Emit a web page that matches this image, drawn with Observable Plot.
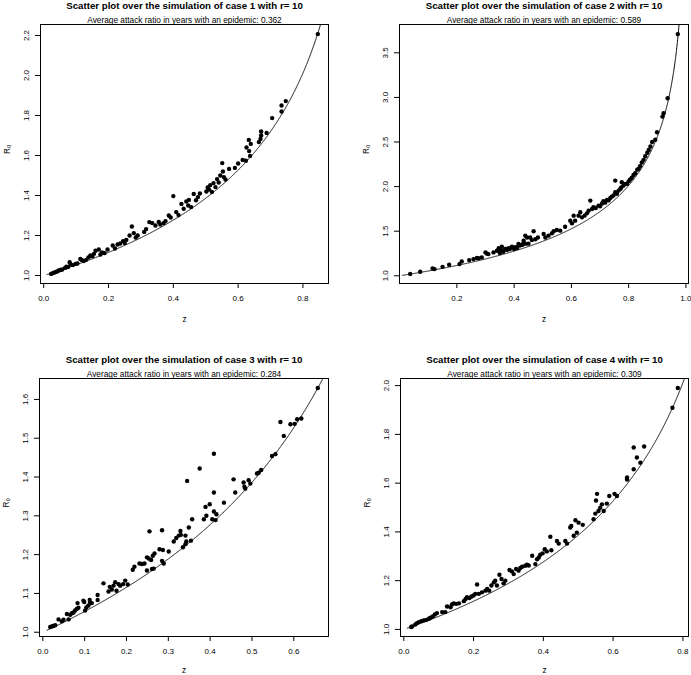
<!DOCTYPE html>
<html>
<head>
<meta charset="utf-8">
<script src="https://cdn.jsdelivr.net/npm/d3@7"></script>
<script src="https://cdn.jsdelivr.net/npm/@observablehq/plot@0.6"></script>
<style>
  body { margin: 0; background: #fff; }
  #page { position: relative; width: 691px; height: 675px; background: #fff; overflow: hidden; }
  #page svg { position: absolute; }
</style>
</head>
<body>
<div id="page"></div>
<script>
// Simulation settings and per-case summaries
const caseNumbers = [1, 2, 3, 4];
const rValue = 10;
const attackRatios = ["0.362", "0.589", "0.284", "0.309"];

// Case 1: attack ratio z and reproduction number R0 per simulated epidemic year
const case1Z = [0.023,0.028,0.033,0.038,0.043,0.048,0.052,0.057,0.066,0.07,0.075,0.08,0.083,0.09,0.098,0.104,0.113,0.117,0.123,0.13,0.138,0.144,0.15,0.155,0.16,0.17,0.175,0.18,0.188,0.197,0.213,0.22,0.228,0.236,0.245,0.25,0.255,0.272,0.265,0.278,0.284,0.29,0.31,0.316,0.326,0.335,0.345,0.355,0.36,0.37,0.376,0.386,0.392,0.4,0.409,0.416,0.425,0.432,0.44,0.446,0.448,0.455,0.463,0.47,0.476,0.482,0.502,0.506,0.51,0.514,0.519,0.524,0.53,0.535,0.54,0.545,0.551,0.553,0.556,0.561,0.572,0.59,0.6,0.614,0.624,0.626,0.633,0.634,0.637,0.639,0.664,0.669,0.671,0.671,0.688,0.705,0.734,0.734,0.747,0.846];
const case1R0 = [1.008,1.012,1.015,1.018,1.021,1.026,1.028,1.03,1.038,1.044,1.042,1.066,1.055,1.052,1.058,1.06,1.083,1.078,1.072,1.077,1.09,1.1,1.096,1.108,1.124,1.13,1.105,1.115,1.112,1.13,1.15,1.135,1.155,1.16,1.172,1.162,1.178,1.245,1.2,1.212,1.19,1.2,1.218,1.232,1.267,1.262,1.25,1.268,1.255,1.262,1.272,1.3,1.29,1.397,1.317,1.302,1.358,1.334,1.37,1.35,1.378,1.342,1.408,1.376,1.392,1.41,1.42,1.44,1.43,1.452,1.418,1.462,1.442,1.482,1.465,1.5,1.562,1.52,1.492,1.48,1.533,1.538,1.56,1.578,1.574,1.64,1.678,1.622,1.598,1.658,1.667,1.683,1.7,1.72,1.713,1.787,1.82,1.85,1.872,2.207];

// Case 2
const case2Z = [0.037,0.072,0.115,0.122,0.15,0.173,0.209,0.217,0.243,0.258,0.27,0.276,0.287,0.3,0.305,0.31,0.328,0.34,0.346,0.35,0.352,0.357,0.36,0.362,0.369,0.375,0.38,0.385,0.392,0.398,0.4,0.405,0.41,0.415,0.42,0.427,0.43,0.433,0.439,0.44,0.445,0.45,0.456,0.462,0.468,0.474,0.483,0.503,0.509,0.52,0.532,0.538,0.549,0.561,0.578,0.596,0.602,0.608,0.613,0.625,0.631,0.637,0.646,0.654,0.66,0.666,0.672,0.677,0.685,0.695,0.7,0.707,0.712,0.718,0.724,0.73,0.736,0.741,0.747,0.753,0.753,0.759,0.765,0.771,0.774,0.776,0.782,0.788,0.794,0.8,0.805,0.811,0.817,0.823,0.83,0.835,0.84,0.846,0.852,0.858,0.865,0.87,0.876,0.882,0.893,0.899,0.918,0.922,0.936,0.9716];
const case2R0 = [1.021,1.045,1.082,1.075,1.1,1.124,1.131,1.161,1.176,1.187,1.2,1.196,1.206,1.262,1.248,1.243,1.262,1.28,1.31,1.255,1.285,1.326,1.28,1.27,1.3,1.29,1.31,1.3,1.326,1.315,1.3,1.32,1.31,1.356,1.34,1.348,1.35,1.393,1.45,1.36,1.43,1.36,1.43,1.4,1.5,1.41,1.43,1.468,1.43,1.45,1.476,1.5,1.513,1.506,1.55,1.618,1.588,1.674,1.618,1.674,1.712,1.655,1.674,1.7,1.73,1.843,1.749,1.768,1.76,1.787,1.78,1.81,1.835,1.82,1.85,1.845,1.873,1.888,1.9,1.936,2.067,1.92,1.955,1.974,1.99,2.049,2.011,2.03,2.03,2.06,2.08,2.1,2.13,2.15,2.19,2.2,2.23,2.27,2.3,2.34,2.38,2.41,2.45,2.5,2.526,2.609,2.785,2.822,2.99,3.71];

// Case 3
const case3Z = [0.0176,0.0215,0.025,0.0295,0.0375,0.0455,0.0495,0.0575,0.0615,0.0654,0.0694,0.0734,0.077,0.081,0.083,0.085,0.097,0.099,0.101,0.104,0.109,0.112,0.113,0.117,0.131,0.131,0.145,0.157,0.16,0.165,0.169,0.173,0.176,0.181,0.185,0.192,0.197,0.203,0.215,0.219,0.231,0.237,0.243,0.249,0.249,0.253,0.255,0.259,0.261,0.263,0.265,0.267,0.279,0.285,0.285,0.287,0.289,0.301,0.313,0.319,0.325,0.329,0.33,0.335,0.341,0.343,0.341,0.345,0.349,0.354,0.357,0.375,0.385,0.389,0.391,0.399,0.405,0.409,0.409,0.409,0.413,0.415,0.433,0.456,0.46,0.48,0.482,0.484,0.492,0.496,0.512,0.516,0.522,0.548,0.556,0.568,0.576,0.592,0.602,0.608,0.618,0.6574];
const case3R0 = [1.0136,1.015,1.016,1.018,1.033,1.028,1.032,1.047,1.033,1.045,1.049,1.051,1.056,1.06,1.075,1.063,1.081,1.078,1.056,1.064,1.069,1.083,1.076,1.075,1.096,1.083,1.126,1.105,1.117,1.11,1.12,1.129,1.107,1.124,1.12,1.124,1.133,1.123,1.161,1.169,1.177,1.176,1.177,1.159,1.193,1.19,1.26,1.186,1.163,1.197,1.164,1.203,1.214,1.184,1.263,1.212,1.177,1.208,1.234,1.243,1.249,1.261,1.251,1.219,1.227,1.234,1.249,1.39,1.27,1.236,1.291,1.422,1.291,1.323,1.3,1.33,1.291,1.36,1.46,1.311,1.289,1.304,1.334,1.394,1.36,1.386,1.375,1.37,1.392,1.383,1.409,1.411,1.418,1.454,1.459,1.542,1.506,1.536,1.537,1.549,1.551,1.6293];

// Case 4
const case4Z = [0.0211,0.024,0.033,0.038,0.043,0.05,0.057,0.064,0.072,0.076,0.083,0.089,0.095,0.11,0.119,0.124,0.134,0.138,0.143,0.15,0.158,0.172,0.177,0.181,0.188,0.194,0.2,0.205,0.21,0.215,0.224,0.234,0.239,0.245,0.251,0.258,0.262,0.267,0.274,0.28,0.286,0.291,0.303,0.31,0.315,0.322,0.329,0.334,0.339,0.348,0.353,0.358,0.368,0.377,0.382,0.387,0.391,0.398,0.404,0.41,0.42,0.423,0.439,0.444,0.463,0.468,0.477,0.48,0.487,0.492,0.496,0.501,0.513,0.544,0.549,0.551,0.554,0.558,0.563,0.568,0.573,0.582,0.589,0.604,0.611,0.64,0.64,0.659,0.668,0.659,0.689,0.678,0.77,0.7855];
const case4R0 = [1.0102,1.012,1.02,1.026,1.03,1.034,1.037,1.039,1.044,1.048,1.053,1.061,1.067,1.071,1.071,1.094,1.091,1.102,1.107,1.105,1.107,1.116,1.125,1.132,1.129,1.135,1.139,1.146,1.184,1.146,1.152,1.159,1.166,1.159,1.18,1.193,1.2,1.18,1.224,1.207,1.189,1.2,1.244,1.238,1.227,1.248,1.241,1.252,1.257,1.261,1.265,1.262,1.302,1.268,1.288,1.295,1.306,1.312,1.329,1.32,1.38,1.325,1.363,1.352,1.363,1.352,1.418,1.424,1.384,1.448,1.397,1.438,1.429,1.452,1.475,1.529,1.556,1.486,1.499,1.513,1.486,1.516,1.547,1.556,1.547,1.615,1.623,1.657,1.705,1.746,1.75,1.684,1.909,1.99];

// Axis tick values per case
const xTicks = [[0, 0.2, 0.4, 0.6, 0.8], [0.2, 0.4, 0.6, 0.8, 1.0], [0, 0.1, 0.2, 0.3, 0.4, 0.5, 0.6], [0, 0.2, 0.4, 0.6, 0.8]];
const yTicks = [[1.0, 1.2, 1.4, 1.6, 1.8, 2.0, 2.2], [1.0, 1.5, 2.0, 2.5, 3.0, 3.5], [1.0, 1.1, 1.2, 1.3, 1.4, 1.5, 1.6], [1.0, 1.2, 1.4, 1.6, 1.8, 2.0]];

const zValues = [case1Z, case2Z, case3Z, case4Z];
const r0Values = [case1R0, case2R0, case3R0, case4R0];

// Sample positions for the final-size relation R0 = -ln(1 - z) / z
const curveZ = d3.range(0.01, 0.9995, 0.0005);

// Panel placement on the page (2 x 2 grid)
const layout = [
  {left: 0,   top: 0,   width: 345, height: 337, mt: 24, mr: 17, mb: 54, ml: 40, zdy: 38.5},
  {left: 345, top: 0,   width: 346, height: 337, mt: 24, mr: 3,  mb: 54, ml: 54, zdy: 38.5},
  {left: 0,   top: 337, width: 345, height: 338, mt: 41, mr: 17, mb: 39, ml: 39, zdy: 36},
  {left: 345, top: 337, width: 346, height: 338, mt: 41, mr: 3,  mb: 39, ml: 55, zdy: 36}
];

const font = '"Liberation Sans", Arial, Helvetica, sans-serif';
const fmt = d3.format(".1f");

// R-style axis range: data extent widened by 4% on each side
function padded(values) {
  const [lo, hi] = d3.extent(values);
  const d = (hi - lo) * 0.04;
  return [lo - d, hi + d];
}

const page = document.getElementById("page");

caseNumbers.forEach((caseNo, i) => {
  const L = layout[i];
  const points = zValues[i].map((z, j) => ({z, r0: r0Values[i][j]}));
  const xDomain = padded(zValues[i]);
  const yDomain = padded(r0Values[i]);
  const curve = curveZ.filter(z => z <= xDomain[1] + 0.01).map(z => ({z, r0: -Math.log(1 - z) / z}));

  const title = `Scatter plot over the simulation of case ${caseNo} with r= ${rValue}`;
  const subtitle = `Average attack ratio in years with an epidemic: ${attackRatios[i]}`;

  const svg = Plot.plot({
    width: L.width,
    height: L.height,
    marginTop: L.mt,
    marginRight: L.mr,
    marginBottom: L.mb,
    marginLeft: L.ml,
    style: {fontFamily: font, fontSize: "8px", color: "#000", background: "transparent", overflow: "visible"},
    x: {domain: xDomain, label: null},
    y: {domain: yDomain, label: null},
    marks: [
      Plot.frame({stroke: "#000", strokeWidth: 1}),
      Plot.axisX(xTicks[i], {tickSize: 5, tickPadding: 7, tickFormat: fmt, fontSize: 8, label: null}),
      Plot.axisY(yTicks[i], {tickSize: 5, tickPadding: 7, tickRotate: -90, tickFormat: fmt, fontSize: 8, label: null}),
      Plot.line(curve, {x: "z", y: "r0", stroke: "#000", strokeWidth: 1, clip: true}),
      Plot.dot(points, {x: "z", y: "r0", r: 2.2, fill: "#000"}),
      Plot.text([title], {frameAnchor: "top", dy: -16, lineAnchor: "bottom", fontWeight: "bold", fontSize: 9.7, text: d => d}),
      Plot.text([subtitle], {frameAnchor: "top", dy: -2, lineAnchor: "bottom", fontSize: 8.3, text: d => d}),
      Plot.text(["z"], {frameAnchor: "bottom", dy: L.zdy, lineAnchor: "bottom", fontSize: 8.3, text: d => d}),
      Plot.text(["R\u2080"], {frameAnchor: "left", dx: -31, rotate: -90, lineAnchor: "bottom", fontSize: 8.3, text: d => d})
    ]
  });
  svg.style.left = L.left + "px";
  svg.style.top = L.top + "px";
  page.appendChild(svg);
});
</script>
</body>
</html>
